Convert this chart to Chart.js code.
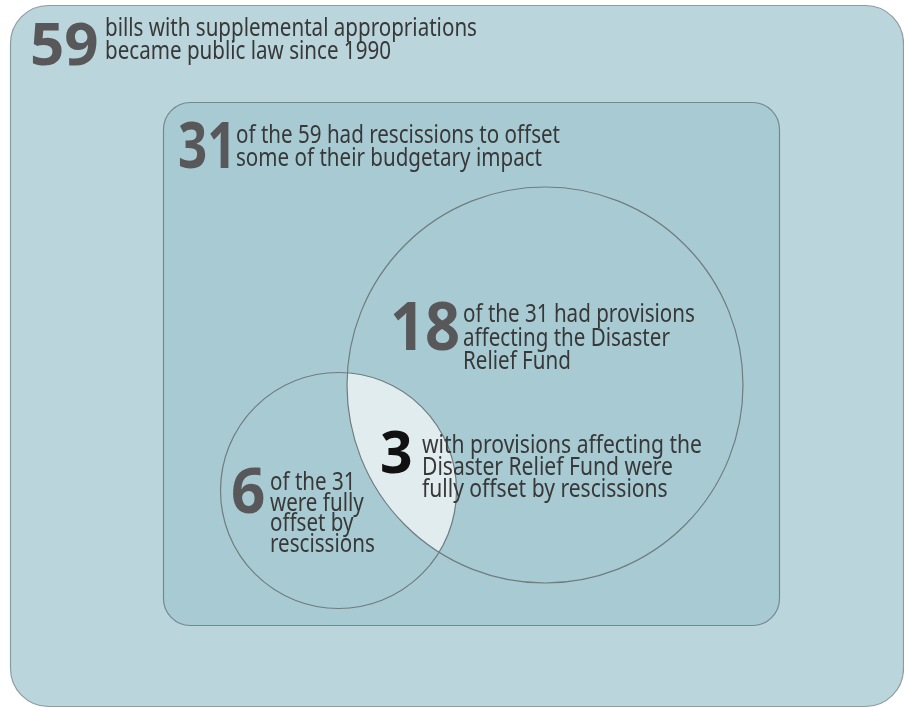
<!DOCTYPE html>
<html>
<head>
<meta charset="utf-8">
<script src="https://cdn.jsdelivr.net/npm/chart.js@4.4.1/dist/chart.umd.min.js"></script>
<style>
  html, body { margin: 0; padding: 0; background: #fff; }
  #wrap { width: 904px; height: 708px; }
</style>
</head>
<body>
<div id="wrap"><canvas id="venn"></canvas></div>
<script>
// the counts shown in the diagram
const groups = ["all", "rescissions", "drf", "fullyOffset", "drfOffset"];
const counts = [59, 31, 18, 6, 3];
const captions = [
  ["bills with supplemental appropriations", "became public law since 1990"],
  ["of the 59 had rescissions to offset", "some of their budgetary impact"],
  ["of the 31 had provisions", "affecting the Disaster", "Relief Fund"],
  ["of the 31", "were fully", "offset by", "rescissions"],
  ["with provisions affecting the", "Disaster Relief Fund were", "fully offset by rescissions"]
];

// layout, in the chart's own units (0..904 across, 0..708 down)
const boxes = {
  all:         { x: 10,  y: 5,   w: 893, h: 701, r: 38, fill: "#bad5db", line: "#8d9ca1" },
  rescissions: { x: 163, y: 102, w: 616, h: 523, r: 27, fill: "#a8cbd3", line: "#74898f" }
};
const circles = {
  drf:         { cx: 545,   cy: 385,   r: 198 },
  fullyOffset: { cx: 338.5, cy: 490.5, r: 118 }
};
// nx/nb number position, ns number size, nk number squeeze, tx/tb first caption line, lh line gap, tk caption squeeze
const labels = {
  all:         { nx: 30,  nb: 65,  ns: 60, nk: 1.0,  tx: 105, tb: 36,  lh: 22.5, tk: 0.84 },
  rescissions: { nx: 178, nb: 168, ns: 64, nk: 0.8,  tx: 236, tb: 143, lh: 22.5, tk: 0.84 },
  drf:         { nx: 390, nb: 350, ns: 66, nk: 0.93, tx: 463, tb: 322, lh: 23.5, tk: 0.84 },
  fullyOffset: { nx: 231, nb: 513, ns: 62, nk: 0.97, tx: 270, tb: 490, lh: 20.5, tk: 0.84 },
  drfOffset:   { nx: 380, nb: 473, ns: 60, nk: 0.95, tx: 422, tb: 453, lh: 22,   tk: 0.86 }
};

const vennPlugin = {
  id: "venn",
  beforeDatasetsDraw(chart) {
    const ctx = chart.ctx, xs = chart.scales.x, ys = chart.scales.y;
    const px = v => xs.getPixelForValue(v);
    const py = v => ys.getPixelForValue(v);
    const len = v => xs.getPixelForValue(v) - xs.getPixelForValue(0);

    // rounded boxes
    ["all", "rescissions"].forEach(k => {
      const b = boxes[k];
      ctx.beginPath();
      ctx.roundRect(px(b.x) + 0.5, py(b.y) + 0.5, len(b.w), len(b.h), len(b.r));
      ctx.fillStyle = b.fill;
      ctx.fill();
      ctx.lineWidth = 1.2;
      ctx.strokeStyle = b.line;
      ctx.stroke();
    });

    const circ = k => {
      const c = circles[k];
      ctx.beginPath();
      ctx.arc(px(c.cx), py(c.cy), len(c.r), 0, Math.PI * 2);
    };

    // overlap of the two circles
    ctx.save();
    circ("fullyOffset");
    ctx.clip();
    circ("drf");
    ctx.fillStyle = "#e1ecef";
    ctx.fill();
    ctx.restore();

    ctx.lineWidth = 1.2;
    ctx.strokeStyle = "#6f7c80";
    circ("drf"); ctx.stroke();
    circ("fullyOffset"); ctx.stroke();

    // numbers and captions
    groups.forEach((g, i) => {
      const L = labels[g];
      ctx.save();
      ctx.font = "bold " + L.ns + "px 'Noto Sans'";
      ctx.fillStyle = g === "drfOffset" ? "#111111" : "#58585a";
      ctx.textBaseline = "alphabetic";
      ctx.translate(px(L.nx), py(L.nb));
      ctx.scale(L.nk, 1);
      ctx.fillText(String(counts[i]), 0, 0);
      ctx.restore();

      captions[i].forEach((line, j) => {
        ctx.save();
        ctx.font = "24.5px 'Noto Sans'";
        ctx.fillStyle = "#383838";
        ctx.translate(px(L.tx), py(L.tb + j * L.lh));
        ctx.scale(L.tk, 1);
        ctx.fillText(line, 0, 0);
        ctx.restore();
      });
    });
  }
};

new Chart(document.getElementById("venn"), {
  type: "scatter",
  data: { datasets: [{ data: [], pointRadius: 0 }] },
  options: {
    responsive: true,
    maintainAspectRatio: false,
    animation: false,
    events: [],
    layout: { padding: 0 },
    plugins: { legend: { display: false }, tooltip: { enabled: false } },
    scales: {
      x: { type: "linear", min: 0, max: 904, display: false },
      y: { type: "linear", min: 0, max: 708, reverse: true, display: false }
    }
  },
  plugins: [vennPlugin]
});
</script>
</body>
</html>
